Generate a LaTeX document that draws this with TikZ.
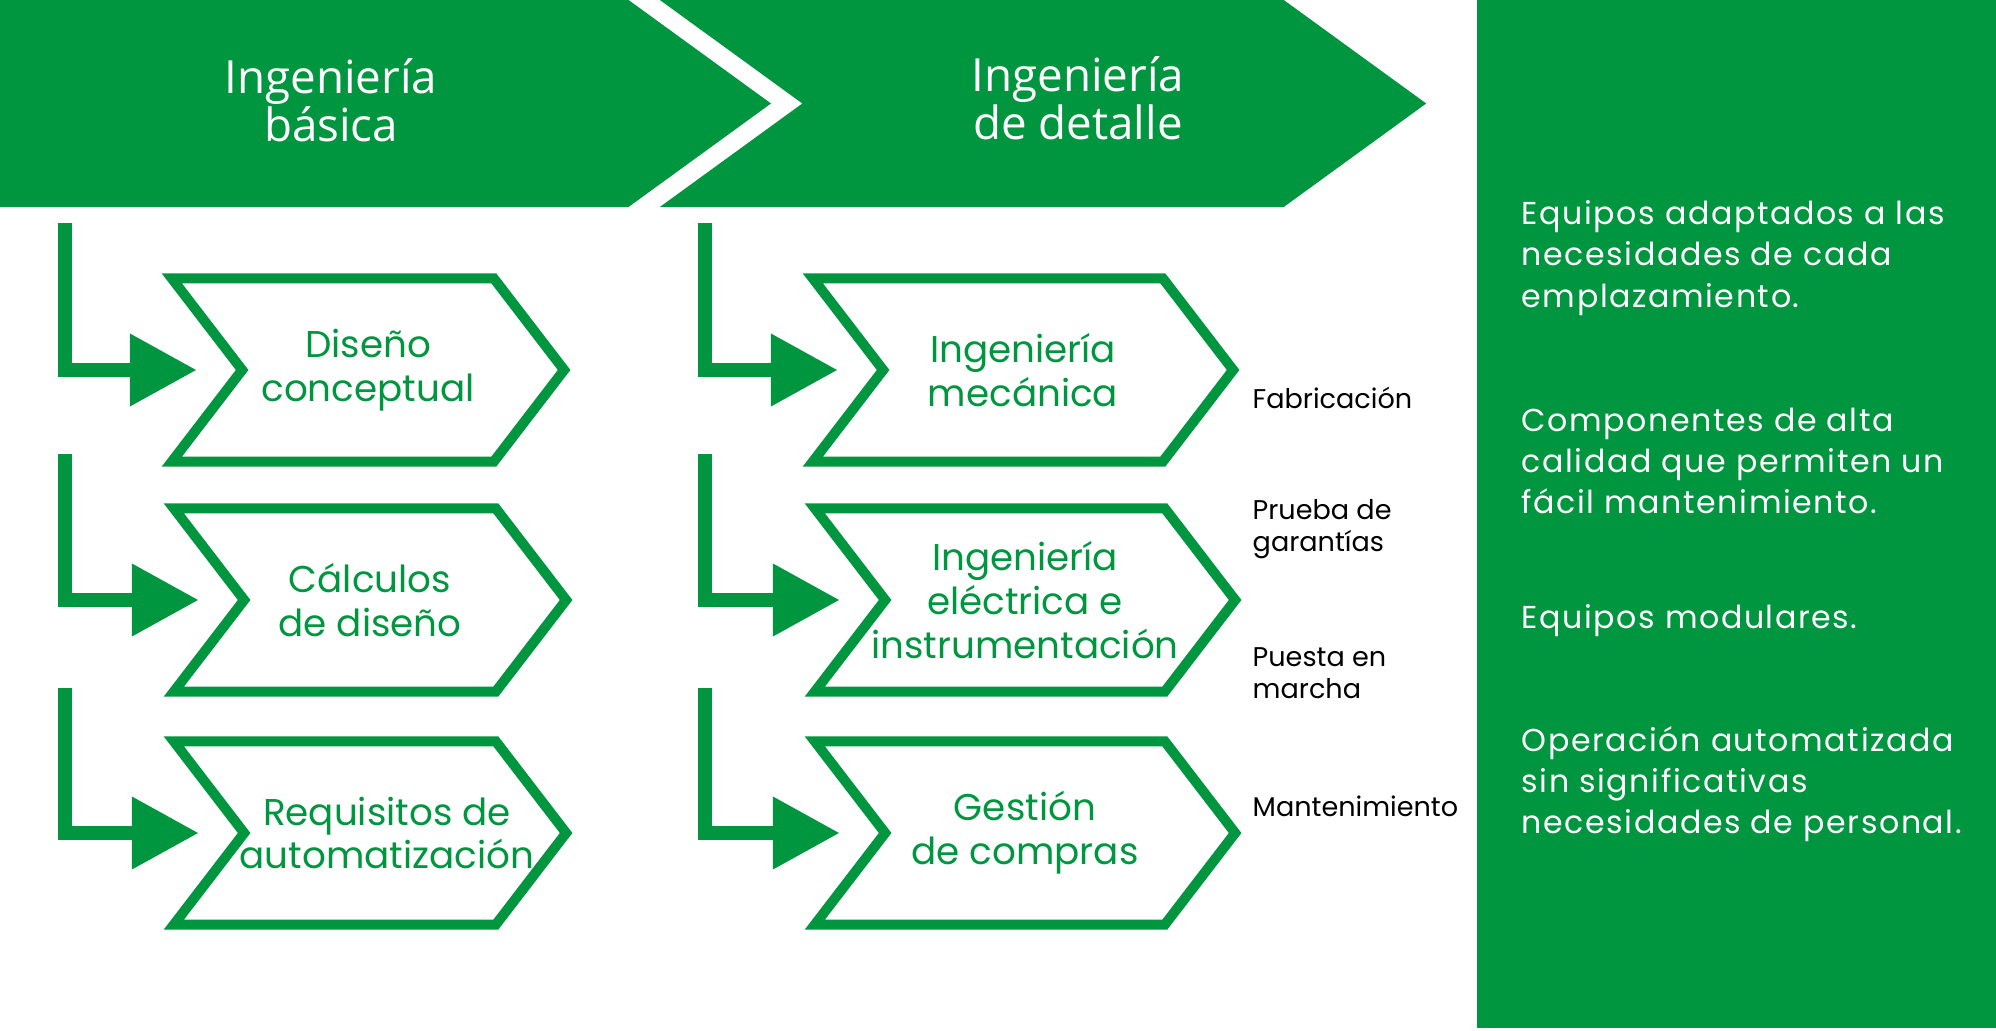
\documentclass[tikz,border=0pt]{standalone}
\usepackage{fontspec}
\setmainfont{Poppins}
\newfontfamily\titulofont{Open Sans}
\newfontfamily\ventajafont[LetterSpace=5]{Poppins}
\usetikzlibrary{shapes.symbols,arrows.meta,positioning}
\definecolor{verde}{HTML}{009640}

\begin{document}
\begin{tikzpicture}[x=0.01cm,y=-0.01cm,
	fase/.style={signal,fill=verde,signal to=east,signal pointer angle=72,
		minimum height=2.07cm,inner sep=0pt},
	etapa/.style={signal,draw=verde,line width=0.1cm,signal from=west,signal to=east,
		signal pointer angle=105,minimum height=1.83cm,inner ysep=0pt,inner xsep=-1cm,
		text=verde,align=center,font=\fontsize{10.6}{12.5}\selectfont},
	titulo/.style={text=white,align=center,font=\titulofont\fontsize{13}{13.7}\selectfont},
	paso/.style={anchor=west,align=left,inner sep=0pt,font=\fontsize{7.7}{9.1}\selectfont},
	ventaja/.style={anchor=west,align=left,inner sep=0pt,text=white,
		font=\ventajafont\fontsize{9}{11.7}\selectfont},
	flecha/.style={verde,line width=0.14cm,-{Triangle[length=0.67cm,width=0.69cm]}}]
	\useasboundingbox (0,0) rectangle (1996,1031);

	% cabecera
	\node[fase,minimum width=7.71cm] (basica) at (314,103.5) {};
	\node[fase,signal from=west,minimum width=7.66cm] (detalle) at (1043,103.5) {};
	\node[titulo] (tbasica) at (331,100) {Ingeniería\\básica};
	\node[titulo] (tdetalle) at (1078,98) {Ingeniería\\de detalle};

	% etapas
	\node[etapa,minimum width=3.92cm] (bas1) at (368,370) {Diseño\\conceptual};
	\node[etapa,minimum width=3.92cm] (bas2) at (370,600) {Cálculos\\de diseño};
	\node[etapa,minimum width=3.92cm] (bas3) at (370,833) {};
	\node[etapa,draw=none] (tbas3) at ([xshift=0.17cm]bas3.center) {Requisitos de\\automatización};
	\node[etapa,minimum width=4.2cm] (det1) at (1023,370) {Ingeniería\\mecánica};
	\node[etapa,minimum width=4.2cm] (det2) at (1025,600) {Ingeniería\\eléctrica e\\instrumentación};
	\node[etapa,minimum width=4.2cm] (det3) at (1025,833) {Gestión\\de compras};

	\foreach \c/\x in {bas/65,det/705}
		\foreach \n/\y in {1/223,2/454,3/688} {
			\coordinate (\c\n top) at (\x,\y);
			\draw[flecha] (\c\n top) |- ([xshift=-0.39cm]\c\n.west);}

	% pasos finales
	\node[paso] (fab) at (1252,398) {Fabricación};
	\node[paso] (prueba) at (1252,529) {Prueba de\\garantías};
	\node[paso] (puesta) at (1252,673) {Puesta en\\marcha};
	\node[paso] (mant) at (1252,806) {Mantenimiento};

	% ventajas
	\fill[verde] (1477,0) rectangle (1996,1028);
	\node[ventaja] (v1) at (1521,258) {Equipos adaptados a las\\necesidades de cada\\emplazamiento.};
	\node[ventaja] (v2) at (1521,461) {Componentes de alta\\calidad que permiten un\\fácil mantenimiento.};
	\node[ventaja] (v3) at (1521,621) {Equipos modulares.};
	\node[ventaja] (v4) at (1521,784) {Operación automatizada\\sin significativas\\necesidades de personal.};
\end{tikzpicture}
\end{document}
